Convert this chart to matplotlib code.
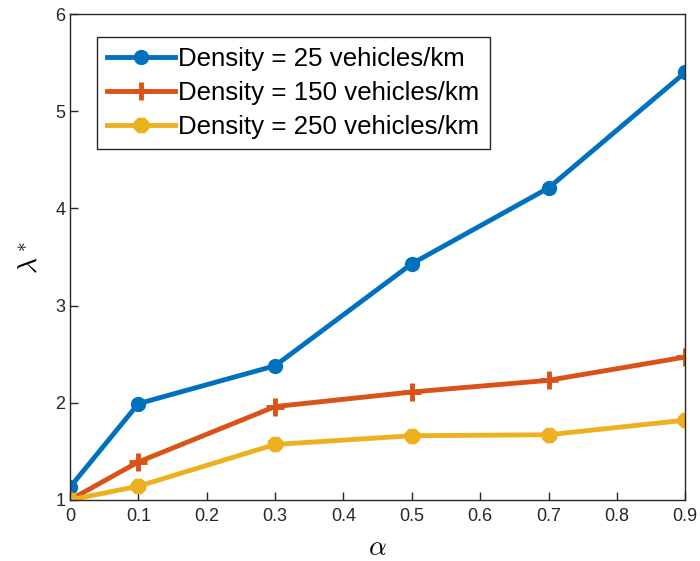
import numpy as np
import matplotlib.pyplot as plt

plt.rcParams['font.family'] = ['Liberation Sans', 'DejaVu Sans']
plt.rcParams['mathtext.fontset'] = 'cm'

alpha = [0, 0.1, 0.3, 0.5, 0.7, 0.9]
lam_25 = [1.13, 1.99, 2.38, 3.43, 4.21, 5.40]
lam_150 = [1.0, 1.39, 1.96, 2.11, 2.23, 2.47]
lam_250 = [1.0, 1.14, 1.57, 1.66, 1.67, 1.82]
labels = ['Density = 25 vehicles/km', 'Density = 150 vehicles/km',
          'Density = 250 vehicles/km']

fig = plt.figure(figsize=(7, 5.61), dpi=100)
ax = fig.add_axes([0.1, 0.109, 0.879, 0.866])

# matlab default colors
ax.plot(alpha, lam_25, color='#0072BD', lw=3.5, marker='o', ms=10,
        label=labels[0])
ax.plot(alpha, lam_150, color='#D95319', lw=3.5, marker='+', ms=13, mew=3.5,
        label=labels[1])
ax.plot(alpha, lam_250, color='#EDB120', lw=3.5, marker=(8, 2, 0), ms=11,
        mew=4.5, label=labels[2])

ax.set_xlim(0, 0.9)
ax.set_ylim(1, 6)
ax.set_xticks(np.arange(0, 0.91, 0.1))
ax.set_xticklabels(['0', '0.1', '0.2', '0.3', '0.4', '0.5', '0.6', '0.7', '0.8', '0.9'])
ax.set_yticks([1, 2, 3, 4, 5, 6])
ax.tick_params(direction='in', length=6, width=1, labelsize=13,
               colors='#262626', top=False, right=False)
ax.tick_params(axis='x', pad=6)
for s in ax.spines.values():
    s.set_color('#262626')
    s.set_linewidth(1)

ax.set_xlabel(r'$\alpha$', fontsize=20, labelpad=7)
ax.set_ylabel(r'$\lambda^*$', fontsize=20, labelpad=8)

leg = ax.legend(loc='upper left', bbox_to_anchor=(0.044, 0.953), fontsize=18.6,
                fancybox=False, framealpha=1, edgecolor='#262626',
                handlelength=2.6, handletextpad=0.15, labelspacing=0.38,
                borderpad=0.4, borderaxespad=0)
leg.get_frame().set_linewidth(1)

fig.savefig('out.png', dpi=100)
